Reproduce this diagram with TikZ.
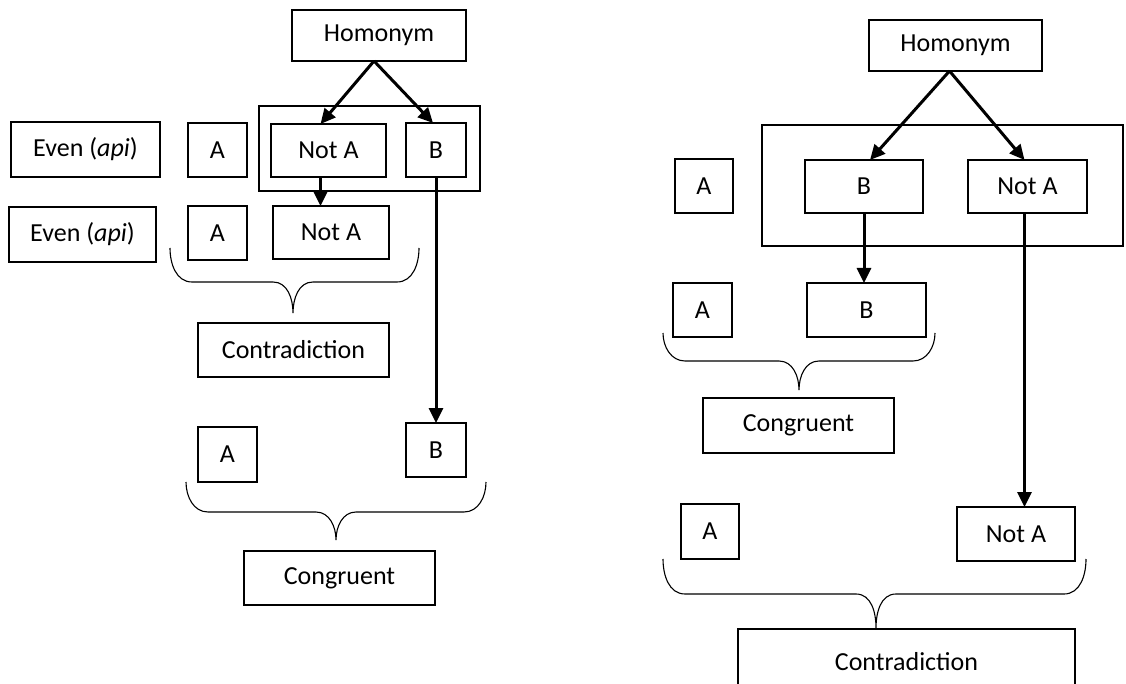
\documentclass[tikz,border=0pt]{standalone}
\usepackage{fontspec}
\setmainfont{Carlito}
\usetikzlibrary{arrows.meta}
\begin{document}
\begin{tikzpicture}[x=1pt,y=-1pt,
  box/.style={draw, line width=2pt, inner sep=0pt, outer sep=0pt,
              font=\fontsize{26}{30}\selectfont},
  link/.style={line width=3pt, -{Triangle[length=15pt,width=14pt]}},
  brace/.style={line width=1.1pt}]
% curly brace: left x, right x, top y, middle y, tip x, tip y
\newcommand\curlybrace[6]{%
  \draw[brace] (#1,#3) to[out=-90,in=180] (#1+22,#4) -- (#5-20,#4)
    to[out=0,in=90] (#5,#6) to[out=90,in=180] (#5+20,#4) -- (#2-22,#4)
    to[out=0,in=-90] (#2,#3);}
\useasboundingbox (0,0) rectangle (1126,684);
\clip (0,0) rectangle (1126,684);

% ---------- left scheme ----------
\node[box,minimum width=174pt,minimum height=51pt] (homL) at (379,35.5) {Homonym};
\node[box,minimum width=221pt,minimum height=85pt] (frameL) at (369.5,148.5) {};
\node[box,minimum width=115pt,minimum height=53pt] (notaL1) at (328.5,150.5) {Not A};
\node[box,minimum width=60pt,minimum height=54pt] (bL1) at (436,150) {B};
\node[box,minimum width=149pt,minimum height=55pt] (evenL1) at (85.5,149.5) {Even (\textit{api})};
\node[box,minimum width=59pt,minimum height=54pt] (aL1) at (217.5,150) {A};
\node[box,minimum width=147pt,minimum height=55pt] (evenL2) at (82.5,234.5) {Even (\textit{api})};
\node[box,minimum width=59pt,minimum height=54pt] (aL2) at (217.5,233) {A};
\node[box,minimum width=116pt,minimum height=53pt] (notaL2) at (331,232.5) {Not A};
\node[box,minimum width=191pt,minimum height=54pt] (contrL) at (293.5,350) {Contradiction};
\node[box,minimum width=59pt,minimum height=55pt] (aL3) at (227.5,454.5) {A};
\node[box,minimum width=60pt,minimum height=54pt] (bL3) at (436,450) {B};
\node[box,minimum width=191pt,minimum height=54pt] (congL) at (339.5,578) {Congruent};

\curlybrace{170}{419}{248}{282}{293}{313}
\curlybrace{186}{486}{482}{512}{336}{540}

\draw[link] ([xshift=-5pt]homL.south) -- ([xshift=-8pt]notaL1.north);
\draw[link] ([xshift=-5pt]homL.south) -- ([xshift=-3pt]bL1.north);
\coordinate (pL) at ([xshift=-8pt]notaL1.south);
\draw[link] (pL) -- (pL |- notaL2.north);
\draw[link] (bL1.south) -- (bL1.south |- bL3.north);

% ---------- right scheme ----------
\node[box,minimum width=173pt,minimum height=51pt] (homR) at (955.5,45.5) {Homonym};
\node[box,minimum width=361pt,minimum height=121pt] (frameR) at (942.5,185.5) {};
\node[box,minimum width=118pt,minimum height=53pt] (bR1) at (864,186.5) {B};
\node[box,minimum width=119pt,minimum height=53pt] (notaR1) at (1027.5,186.5) {Not A};
\node[box,minimum width=58pt,minimum height=54pt] (aR1) at (704,186) {A};
\node[box,minimum width=59pt,minimum height=54pt] (aR2) at (702.5,310) {A};
\node[box,minimum width=119pt,minimum height=54pt] (bR2) at (866.5,310) {B};
\node[box,minimum width=191pt,minimum height=55pt] (congR) at (798.5,425.5) {Congruent};
\node[box,minimum width=58pt,minimum height=55pt] (aR3) at (710,531.5) {A};
\node[box,minimum width=118pt,minimum height=54pt] (notaR2) at (1016,534) {Not A};
\node[box,minimum width=337pt,minimum height=64pt,text height=18pt,text depth=0pt] (contrR) at (906.5,661) {Contradiction};

\curlybrace{663}{935}{333}{361}{799}{390}
\curlybrace{663}{1086}{559}{594}{876}{628}

\draw[link] ([xshift=-6pt]homR.south) -- ([xshift=6pt]bR1.north);
\draw[link] ([xshift=-6pt]homR.south) -- ([xshift=-3pt]notaR1.north);
\draw[link] (bR1.south) -- (bR1.south |- bR2.north);
\coordinate (pR) at ([xshift=-3pt]notaR1.south);
\draw[link] (pR) -- (pR |- notaR2.north);
\end{tikzpicture}
\end{document}
